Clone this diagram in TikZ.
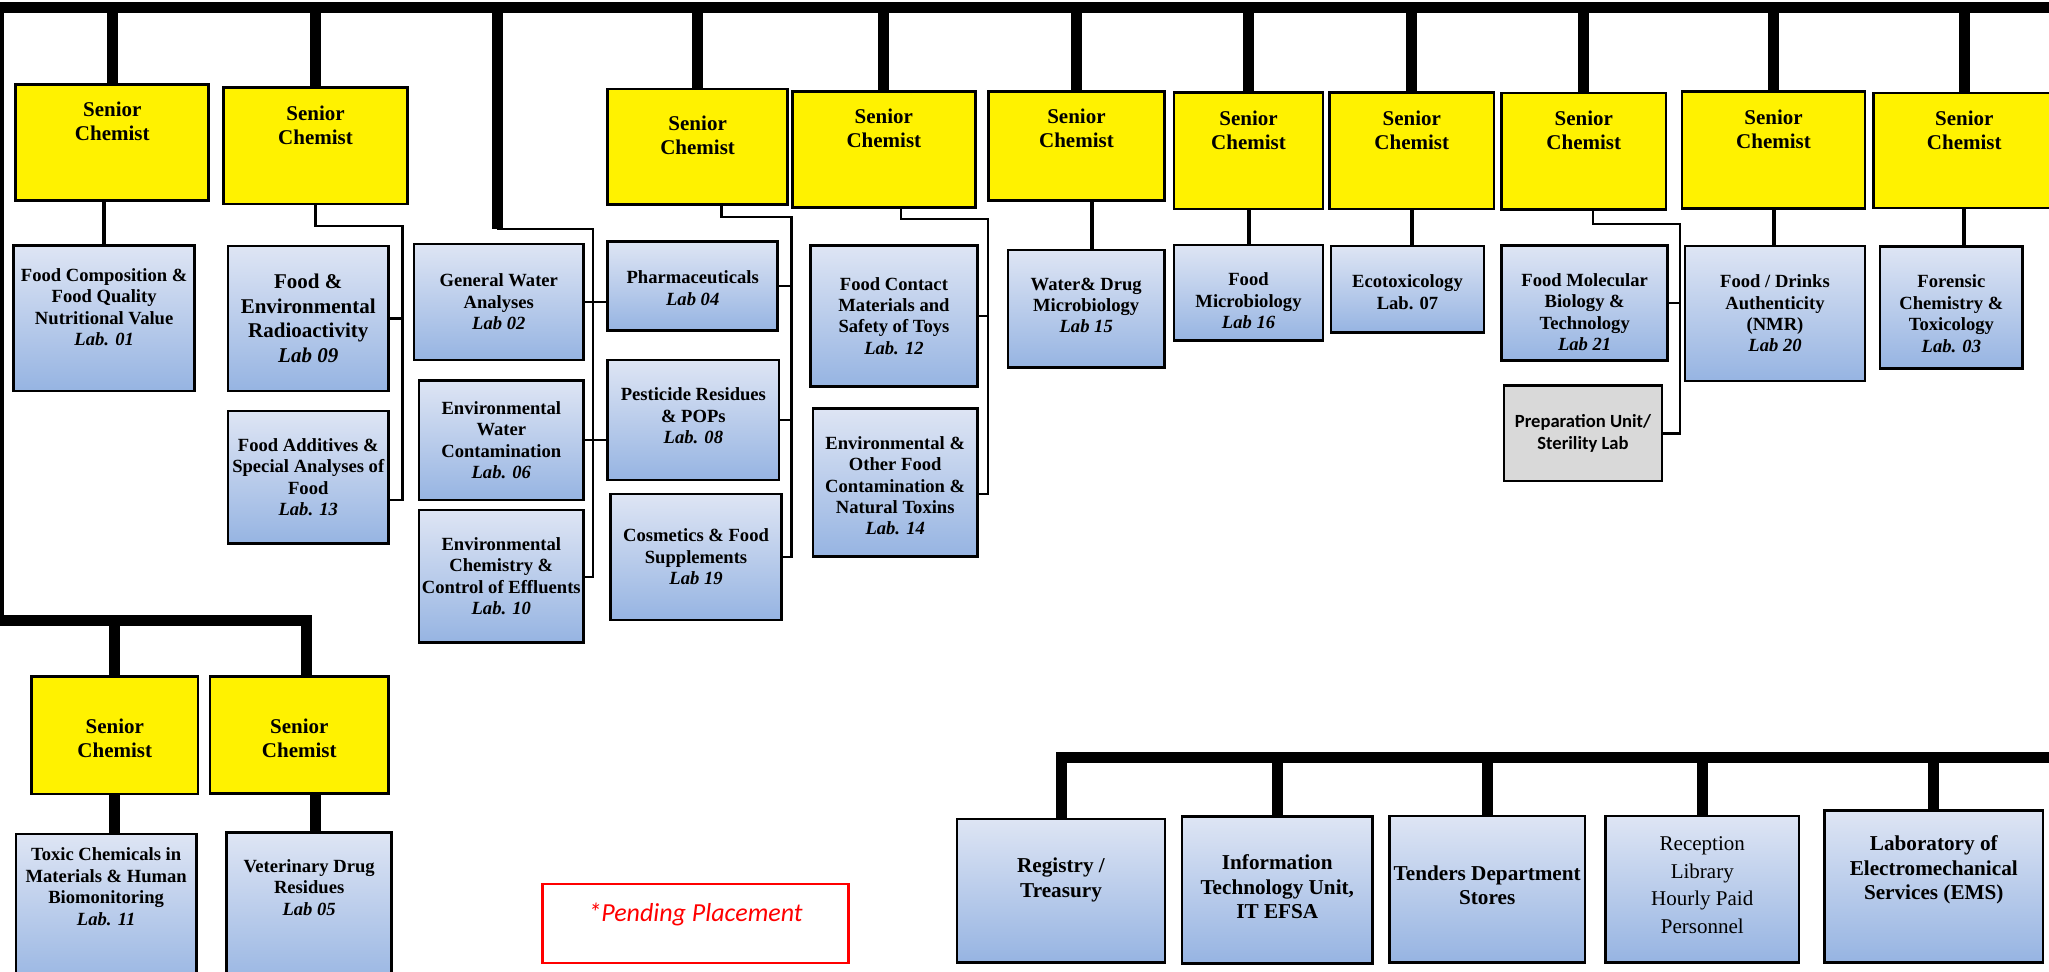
\documentclass[tikz,border=0pt]{standalone}
\usepackage{fontspec}
\setmainfont{Liberation Serif}
\newfontfamily\calibri{Carlito}
\usetikzlibrary{positioning,fit,calc}
\definecolor{labtop}{RGB}{222,229,244}
\definecolor{labbot}{RGB}{150,180,226}
\definecolor{prepgray}{RGB}{217,217,217}
\newcommand{\labno}[1]{\textit{#1}}

\begin{document}
\begin{tikzpicture}[
				x=0.5pt,y=-0.5pt,
				senior/.style={draw,fill=yellow,line width=1.4pt,inner sep=0pt},
				sctext/.style={anchor=north,align=center,inner sep=0pt,yshift=-9.5pt,font=\fontsize{10.5}{12}\selectfont\bfseries},
				labtext/.style={align=center,inner sep=0pt,font=\fontsize{9.3}{10.7}\selectfont\bfseries},
				lab/.style={draw,line width=1.4pt,top color=labtop,bottom color=labbot,inner sep=0pt},
				unittext/.style={align=center,inner sep=0pt,font=\fontsize{10.6}{12.2}\selectfont\bfseries},
				prep/.style={draw,fill=prepgray,line width=1.4pt,inner sep=0pt},
				preptext/.style={align=center,inner sep=0pt,font=\calibri\bfseries\fontsize{9.3}{11.2}\selectfont},
				pending/.style={draw=red,line width=1.2pt,inner sep=0pt,text=red,text depth=8.4pt,font=\calibri\itshape\fontsize{13}{15}\selectfont},
				bus/.style={line width=5.5pt},
				drop/.style={line width=2pt},
				link/.style={line width=1.2pt}
				]
				\useasboundingbox (0,0) rectangle (2049,972);
				\clip (0,0) rectangle (2049,972);
				
				% senior chemists, top row
				\node[senior,fit={(15.8,84.2) (208.8,200.7)},label={[sctext]north:Senior\\Chemist}] (sc1) {};
				\node[senior,fit={(223.8,87.5) (407.3,204)},label={[sctext]north:Senior\\Chemist}] (sc2) {};
				\node[senior,fit={(607.7,89) (787.6,204.8)},label={[sctext,yshift=-4.5pt]north:Senior\\Chemist}] (sc4) {};
				\node[senior,fit={(792.3,91.2) (975.4,207.3)},label={[sctext]north:Senior\\Chemist}] (sc5) {};
				\node[senior,fit={(988.5,91.2) (1164.4,200.7)},label={[sctext]north:Senior\\Chemist}] (sc6) {};
				\node[senior,fit={(1174,92.7) (1323,209)},label={[sctext]north:Senior\\Chemist}] (sc7) {};
				\node[senior,fit={(1329.5,92.7) (1494,209)},label={[sctext]north:Senior\\Chemist}] (sc8) {};
				\node[senior,fit={(1501.5,93) (1666,209.3)},label={[sctext]north:Senior\\Chemist}] (sc9) {};
				\node[senior,fit={(1682,91.7) (1865,208.3)},label={[sctext]north:Senior\\Chemist}] (sc10) {};
				\node[senior,fit={(1873.6,93) (2055,208)},label={[sctext]north:Senior\\Chemist}] (sc11) {};
				
				% senior chemists, lower left
				\node[senior,fit={(31.6,676.7) (198,794)}] (sc12) {};
				\node[sctext,anchor=center,yshift=9.5pt] (sc12t) at ([yshift=-1.5pt]sc12.center) {Senior\\Chemist};
				\node[senior,fit={(210,676.7) (388.6,793.3)}] (sc13) {};
				\node[sctext,anchor=center,yshift=9.5pt] (sc13t) at ([yshift=-1.5pt]sc13.center) {Senior\\Chemist};
				
				% labs
				\node[lab,fit={(13.8,245.4) (194.5,391)}] (lab01) {};
				\node[labtext] (lab01t) at ([yshift=5.5pt]lab01.center) {Food Composition \&\\Food Quality\\Nutritional Value\\\labno{Lab. 01}};
				\node[lab,fit={(228,246) (388.5,391)}] (lab09) {};
				\node[labtext,font=\fontsize{10.5}{12.3}\selectfont\bfseries] (lab09t) at (lab09.center) {Food \&\\Environmental\\Radioactivity\\\labno{Lab 09}};
				\node[lab,fit={(228,411) (388.5,543.5)}] (lab13) {};
				\node[labtext] (lab13t) at (lab13.center) {Food Additives \&\\Special Analyses of\\Food\\\labno{Lab. 13}};
				\node[lab,fit={(414,244) (583.6,360)}] (lab02) {};
				\node[labtext] (lab02t) at (lab02.center) {General Water\\Analyses\\\labno{Lab 02}};
				\node[lab,fit={(419,380.6) (583.6,500)}] (lab06) {};
				\node[labtext] (lab06t) at (lab06.center) {Environmental\\Water\\Contamination\\\labno{Lab. 06}};
				\node[lab,fit={(419,510) (583.6,642.6)}] (lab10) {};
				\node[labtext] (lab10t) at (lab10.center) {Environmental\\Chemistry \&\\Control of Effluents\\\labno{Lab. 10}};
				\node[lab,fit={(607.7,241.7) (777.7,330.4)}] (lab04) {};
				\node[labtext] (lab04t) at ([yshift=-1pt]lab04.center) {Pharmaceuticals\\\labno{Lab 04}};
				\node[lab,fit={(607.7,360) (779,480)}] (lab08) {};
				\node[labtext] (lab08t) at ([yshift=2pt]lab08.center) {Pesticide Residues\\\& POPs\\\labno{Lab. 08}};
				\node[lab,fit={(610.4,494) (781.7,620)}] (lab19) {};
				\node[labtext] (lab19t) at (lab19.center) {Cosmetics \& Food\\Supplements\\\labno{Lab 19}};
				\node[lab,fit={(810.5,245.4) (977.4,386.4)}] (lab12) {};
				\node[labtext] (lab12t) at (lab12.center) {Food Contact\\Materials and\\Safety of Toys\\\labno{Lab. 12}};
				\node[lab,fit={(813,408.4) (977.4,556.4)}] (lab14) {};
				\node[labtext] (lab14t) at ([yshift=-1.7pt]lab14.center) {Environmental \&\\Other Food\\Contamination \&\\Natural Toxins\\\labno{Lab. 14}};
				\node[lab,fit={(1008,250) (1164.4,367.7)}] (lab15) {};
				\node[labtext] (lab15t) at ([yshift=1.7pt]lab15.center) {Water\& Drug\\Microbiology\\\labno{Lab 15}};
				\node[lab,fit={(1174,245) (1323,340.7)}] (lab16) {};
				\node[labtext] (lab16t) at ([yshift=-4pt]lab16.center) {Food\\Microbiology\\\labno{Lab 16}};
				\node[lab,fit={(1331,246) (1484,332.3)}] (lab07) {};
				\node[labtext] (lab07t) at ([yshift=-1.5pt]lab07.center) {Ecotoxicology\\Lab. 07};
				\node[lab,fit={(1501.5,245.7) (1667.8,360.7)}] (lab21) {};
				\node[labtext] (lab21t) at ([yshift=-4.5pt]lab21.center) {Food Molecular\\Biology \&\\Technology\\\labno{Lab 21}};
				\node[prep,fit={(1504,385.7) (1662,481)}] (prep) {};
				\node[preptext] (prept) at (prep.center) {Preparation Unit/\\Sterility Lab};
				\node[lab,fit={(1685,246) (1865,381)}] (lab20) {};
				\node[labtext] (lab20t) at (lab20.center) {Food / Drinks\\Authenticity\\(NMR)\\\labno{Lab 20}};
				\node[lab,fit={(1880,246.7) (2022.7,368.5)}] (lab03) {};
				\node[labtext] (lab03t) at ([yshift=-3pt]lab03.center) {Forensic\\Chemistry \&\\Toxicology\\\labno{Lab. 03}};
				\node[lab,fit={(16,834) (196.3,990)}] (lab11) {};
				\node[labtext] (lab11t) at ([yshift=-27pt]lab11.north) {Toxic Chemicals in\\Materials \& Human\\Biomonitoring\\\labno{Lab. 11}};
				\node[lab,fit={(226.8,832.7) (391.5,990)}] (lab05) {};
				\node[labtext] (lab05t) at ([yshift=-28pt]lab05.north) {Veterinary Drug\\Residues\\\labno{Lab 05}};
				
				% units, bottom right
				\node[lab,fit={(957,819) (1165,962.3)}] (reg) {};
				\node[unittext] (regt) at ([yshift=5.3pt]reg.center) {Registry /\\Treasury};
				\node[lab,fit={(1182,816.7) (1372.5,963.3)}] (itu) {};
				\node[unittext] (itut) at ([yshift=1.6pt]itu.center) {Information\\Technology Unit,\\IT EFSA};
				\node[lab,fit={(1389.4,816) (1585,962.3)}] (tend) {};
				\node[unittext] (tendt) at ([yshift=2pt]tend.center) {Tenders Department\\Stores};
				\node[lab,fit={(1605.5,816) (1799,962.3)}] (recp) {};
				\node[unittext,font=\fontsize{10.5}{13.8}\selectfont] (recpt) at ([yshift=2pt]recp.center) {Reception\\Library\\Hourly Paid\\Personnel};
				\node[lab,fit={(1824.5,810.7) (2043,962.3)}] (ems) {};
				\node[unittext] (emst) at ([yshift=8.2pt]ems.center) {Laboratory of\\Electromechanical\\Services (EMS)};
				
				\node[pending,fit={(542.5,884) (848.5,962.7)}] (pend) {*Pending Placement};
				
				% the bars
				\coordinate (topL) at (0,7.5);
				\coordinate (topR) at (2049,7.5);
				\coordinate (spine) at (2,7.5);
				\coordinate (lowbus) at (0,620);
				\coordinate (c13) at ([xshift=3.5pt]sc13.north);
				\coordinate (busR) at (2049,757);
				\coordinate (br3) at (497,229);
				\draw[bus] (topL) -- (topR);
				\draw[drop] (spine) -- (spine |- lowbus);
				\draw[bus] (lowbus) -| (c13);
				\draw[bus] (busR) -| (reg.north);
				\foreach \n in {sc1,sc2,sc4,sc5,sc6,sc7,sc8,sc9,sc10,sc11}
					\draw[bus] (\n.north |- topL) -- (\n.north);
				\draw[bus] (br3 |- topL) -- (br3);
				\draw[bus] (sc12.north |- lowbus) -- (sc12.north);
				\foreach \n in {itu,tend,recp,ems}
					\draw[bus] (\n.north |- busR) -- (\n.north);
				
				% the single labs
				\coordinate (d15) at ([xshift=3pt]lab15.north);
				\coordinate (d05) at ([xshift=3pt]lab05.north);
				\draw[drop] (lab01.north |- sc1.south) -- (lab01.north);
				\draw[drop] (d15 |- sc6.south) -- (d15);
				\draw[drop] (lab16.north |- sc7.south) -- (lab16.north);
				\draw[drop] (sc8.south) -- (sc8.south |- lab07.north);
				\draw[drop] (sc10.south) -- (sc10.south |- lab20.north);
				\draw[drop] (sc11.south) -- (sc11.south |- lab03.north);
				\draw[bus] (sc12.south) -- (sc12.south |- lab11.north);
				\draw[bus] (d05 |- sc13.south) -- (d05);
				
				% the brackets
				\coordinate (sp2) at (402.5,226);
				\coordinate (sp2b) at (402.5,500);
				\draw[link] (sc2.south) |- (sp2) -- (sp2b) -- (sp2b -| lab13.east);
				\draw[link] (sp2 |- lab09.east) -- (lab09.east);
				
				\coordinate (sp3) at (593,229);
				\coordinate (sp3b) at (593,577);
				\draw[link] (br3) -- (sp3) -- (sp3b) -- (sp3b -| lab10.east);
				\draw[link] (lab02.east) -- (lab02.east -| lab04.west);
				\draw[link] (lab06.east) -- (lab06.east -| lab08.west);
				
				\coordinate (c4) at ([xshift=12pt]sc4.south);
				\coordinate (sp4) at (791.5,217);
				\draw[link] (c4) |- (sp4) -- (sp4 |- lab19.east) -- (lab19.east);
				\draw[link] (sp4 |- lab04.east) -- (lab04.east);
				\draw[link] (sp4 |- lab08.east) -- (lab08.east);
				
				\coordinate (c5) at ([xshift=8.5pt]sc5.south);
				\coordinate (sp5) at (988,219);
				\coordinate (sp5b) at (988,494);
				\draw[link] (c5) |- (sp5) -- (sp5b) -- (sp5b -| lab14.east);
				\draw[link] (sp5 |- lab12.east) -- (lab12.east);
				
				\coordinate (c9) at ([xshift=4.5pt]sc9.south);
				\coordinate (sp9) at (1680,224);
				\draw[link] (c9) |- (sp9) -- (sp9 |- prep.east) -- (prep.east);
				\draw[link] (sp9 |- lab21.east) -- (lab21.east);
			\end{tikzpicture}
\end{document}
